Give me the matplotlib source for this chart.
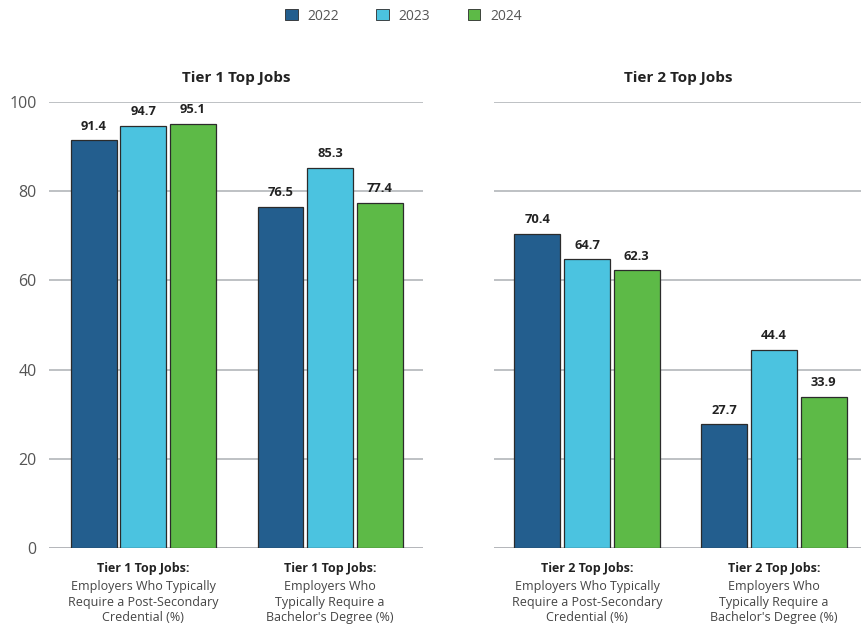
import matplotlib
matplotlib.use("Agg")
import matplotlib.pyplot as plt
from matplotlib.patches import Patch
import numpy as np

plt.rcParams['font.family'] = ['Open Sans', 'DejaVu Sans']

years = ["2022", "2023", "2024"]
colors = ["#235e8e", "#4bc3e0", "#5dba47"]

panel_titles = ["Tier 1 Top Jobs", "Tier 2 Top Jobs"]
cat_bold = [["Tier 1 Top Jobs:", "Tier 1 Top Jobs:"],
            ["Tier 2 Top Jobs:", "Tier 2 Top Jobs:"]]
cat_rest = [["Employers Who Typically\nRequire a Post-Secondary\nCredential (%)",
             "Employers Who\nTypically Require a\nBachelor's Degree (%)"],
            ["Employers Who Typically\nRequire a Post-Secondary\nCredential (%)",
             "Employers Who\nTypically Require a\nBachelor's Degree (%)"]]

tier1_2022 = [91.4, 76.5]
tier1_2023 = [94.7, 85.3]
tier1_2024 = [95.1, 77.4]
tier2_2022 = [70.4, 27.7]
tier2_2023 = [64.7, 44.4]
tier2_2024 = [62.3, 33.9]

panels = [[tier1_2022, tier1_2023, tier1_2024],
          [tier2_2022, tier2_2023, tier2_2024]]

yticks = [0, 20, 40, 60, 80, 100]

W, H = 862, 635
fig = plt.figure(figsize=(W / 100, H / 100), dpi=100)
fig.patch.set_facecolor("white")

axes_px = [(49, 423), (494, 862)]
y_top, y_bot = 102, 548
xlims = [(-0.505, 1.497), (-0.497, 1.47)]

bw = 0.245
step = 0.266

for p, ((x0, x1), series) in enumerate(zip(axes_px, panels)):
    ax = fig.add_axes([x0 / W, 1 - y_bot / H, (x1 - x0) / W, (y_bot - y_top) / H])
    ax.set_xlim(*xlims[p])
    ax.set_ylim(0, 100)
    for s in ax.spines.values():
        s.set_visible(False)
    ax.set_yticks(yticks)
    for t in yticks:
        ax.axhline(t, color="#b3b6ba", lw=1.4 if t == 0 else 1.2, zorder=0)
    ax.tick_params(axis="y", length=0, labelsize=11.5, labelcolor="#555555", pad=9)
    if p == 1:
        ax.tick_params(axis="y", labelleft=False)
    ax.set_xticks([])
    ax.set_facecolor("none")
    x = np.arange(2)
    for i, vals in enumerate(series):
        xs = x + (i - 1) * step
        ax.bar(xs, vals, width=bw, color=colors[i], edgecolor="#2b2b2b", lw=0.9, zorder=2)
        for xi, v in zip(xs, vals):
            ax.text(xi, v + 1.7, f"{v}", ha="center", va="bottom", fontsize=9.3,
                    fontweight="bold", color="#222222")
    ax.text(0.5, 1.037, panel_titles[p], transform=ax.transAxes,
            ha="center", va="bottom", fontsize=11, fontweight="bold", color="#222222")
    trans = ax.get_xaxis_transform()
    for j in range(2):
        ax.text(j, -0.032, cat_bold[p][j], transform=trans, ha="center", va="top",
                fontsize=9, fontweight="bold", color="#222222")
        ax.text(j, -0.072, cat_rest[p][j], transform=trans, ha="center", va="top",
                fontsize=9, color="#444444", linespacing=1.25)

handles = [Patch(facecolor=c, edgecolor="#2b2b2b", lw=0.6) for c in colors]
fig.legend(handles, years, loc="center", bbox_to_anchor=(0.468, 1 - 16 / H), ncol=3,
           frameon=False, fontsize=10, handlelength=0.9, handleheight=0.9,
           columnspacing=2.7, handletextpad=0.7, labelcolor="#555555")

fig.savefig("out.png", dpi=100, facecolor="white")
